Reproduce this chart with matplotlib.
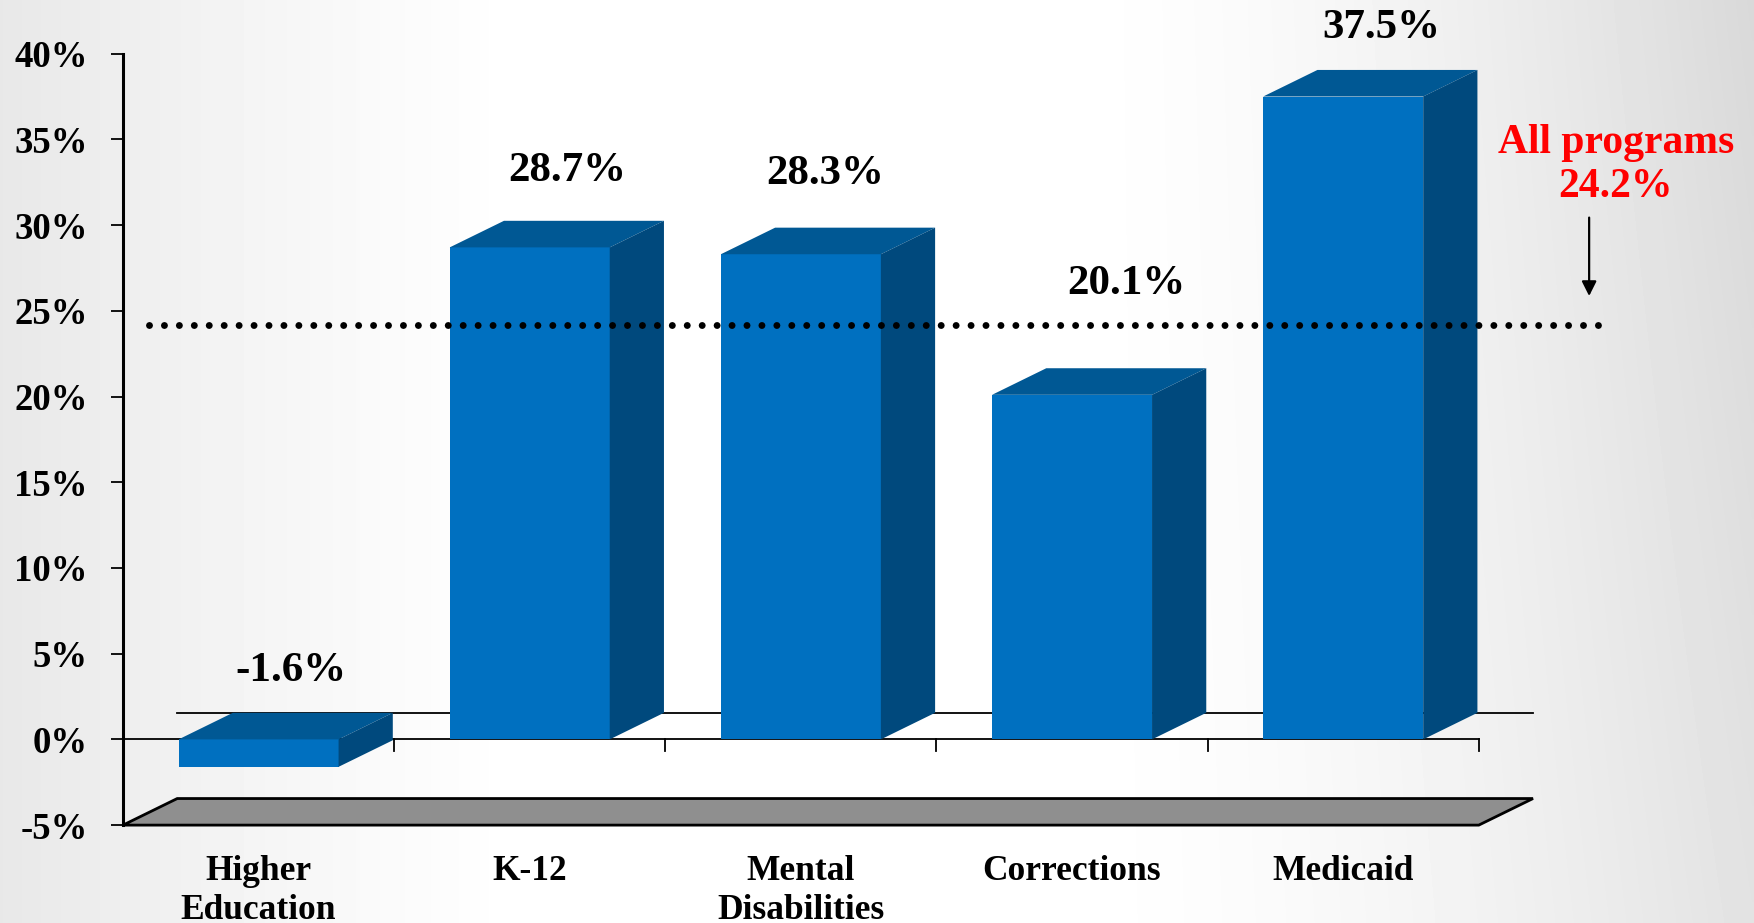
import numpy as np
import matplotlib
matplotlib.use('Agg')
import matplotlib.pyplot as plt
from matplotlib.patches import Polygon, Rectangle

# growth in spending by program area
programs = ['Higher\nEducation', 'K-12', 'Mental\nDisabilities', 'Corrections', 'Medicaid']
growth = [-1.6, 28.7, 28.3, 20.1, 37.5]
all_programs = 24.2
yticks = [-5, 0, 5, 10, 15, 20, 25, 30, 35, 40]

# label placement tweaks (x nudge, lift above bar top)
label_dx = [0.12, 0.14, 0.09, 0.20, 0.14]
label_lift = [4.0, 4.45, 4.7, 6.45, 4.0]

front_c = '#0070C0'
top_c = '#005894'
side_c = '#00497D'
serif = 'Liberation Serif'

w = 0.59      # bar width
dx = 0.2      # depth offset in x
dy = 1.55     # depth offset in y

fig = plt.figure(figsize=(17.54, 9.23), dpi=100)

# soft grey background shading
bg = fig.add_axes([0, 0, 1, 1], zorder=-10)
xx, yy = np.meshgrid(np.linspace(0, 1, 400), np.linspace(0, 1, 200))
shade = 1.0 - 0.15 * np.clip((xx - 0.6) / 0.4, 0, 1) ** 1.6 * (0.75 + 0.25 * (1 - yy))
shade -= 0.09 * np.clip((0.3 - xx) / 0.3, 0, 1) ** 1.2
bg.imshow(shade, cmap='gray', vmin=0, vmax=1, aspect='auto', extent=[0, 1, 0, 1],
          interpolation='bilinear')
bg.axis('off')

ax = fig.add_axes([123 / 1754, 0, 1 - 123 / 1754, 1])
ax.patch.set_alpha(0)
ax.set_xlim(-0.5, 5.515)
ax.set_ylim(-10.71, 43.13)

# floor
floor = Polygon([(-0.5, -5), (4.5, -5), (4.5 + dx, -5 + dy), (-0.5 + dx, -5 + dy)],
                closed=True, facecolor='#8f8f8f', edgecolor='black', lw=2, zorder=1)
ax.add_patch(floor)

# back and front zero lines
ax.plot([-0.5 + dx, 4.5 + dx], [dy, dy], color='black', lw=1.3, zorder=1)
ax.plot([-0.5, 4.5], [0, 0], color='black', lw=1.3, zorder=2)
for b in np.arange(0.5, 5, 1):
    ax.plot([b, b], [0, -0.7], color='black', lw=1.3, zorder=2)

for i, v in enumerate(growth):
    x0, x1 = i - w / 2, i + w / 2
    lo, hi = min(v, 0), max(v, 0)
    ax.add_patch(Rectangle((x0, lo), w, hi - lo, facecolor=front_c, edgecolor='none', zorder=3))
    ax.add_patch(Polygon([(x0, hi), (x1, hi), (x1 + dx, hi + dy), (x0 + dx, hi + dy)],
                         closed=True, facecolor=top_c, edgecolor='none', zorder=3))
    ax.add_patch(Polygon([(x1, lo), (x1, hi), (x1 + dx, hi + dy), (x1 + dx, lo + dy)],
                         closed=True, facecolor=side_c, edgecolor='none', zorder=3))
    ax.text(i + label_dx[i], hi + label_lift[i], f'{v:.1f}%', ha='center', va='center',
            fontsize=31, fontweight='bold', family=serif, zorder=6)
    ax.text(i, -6.72, programs[i], ha='center', va='top', fontsize=25.5,
            fontweight='bold', family=serif, linespacing=1.25)

# average line across all programs
ax.plot([-0.405, 4.953], [all_programs, all_programs], color='black', lw=5,
        linestyle=(0, (0.001, 2.15)), dash_capstyle='round', zorder=5)
ax.annotate('', xy=(4.907, 25.7), xytext=(4.907, 30.6),
            arrowprops=dict(arrowstyle='-|>', color='black', lw=1.6, mutation_scale=22))
ax.text(5.005, 33.5, f'All programs\n{all_programs:.1f}%', ha='center', va='center',
        color='#ff0000', fontsize=30, fontweight='bold', family=serif, linespacing=1.2)

# y axis
for s in ['top', 'right', 'bottom']:
    ax.spines[s].set_visible(False)
ax.spines['left'].set_bounds(-5, 40)
ax.spines['left'].set_linewidth(2.2)
ax.set_yticks(yticks)
ax.set_yticklabels([f'{t}%' for t in yticks])
ax.tick_params(axis='y', length=8.5, width=1.3, pad=17, labelsize=26.5)
for lab in ax.get_yticklabels():
    lab.set_family(serif)
    lab.set_fontweight('bold')
ax.set_xticks([])

plt.savefig('out.png', dpi=100)
